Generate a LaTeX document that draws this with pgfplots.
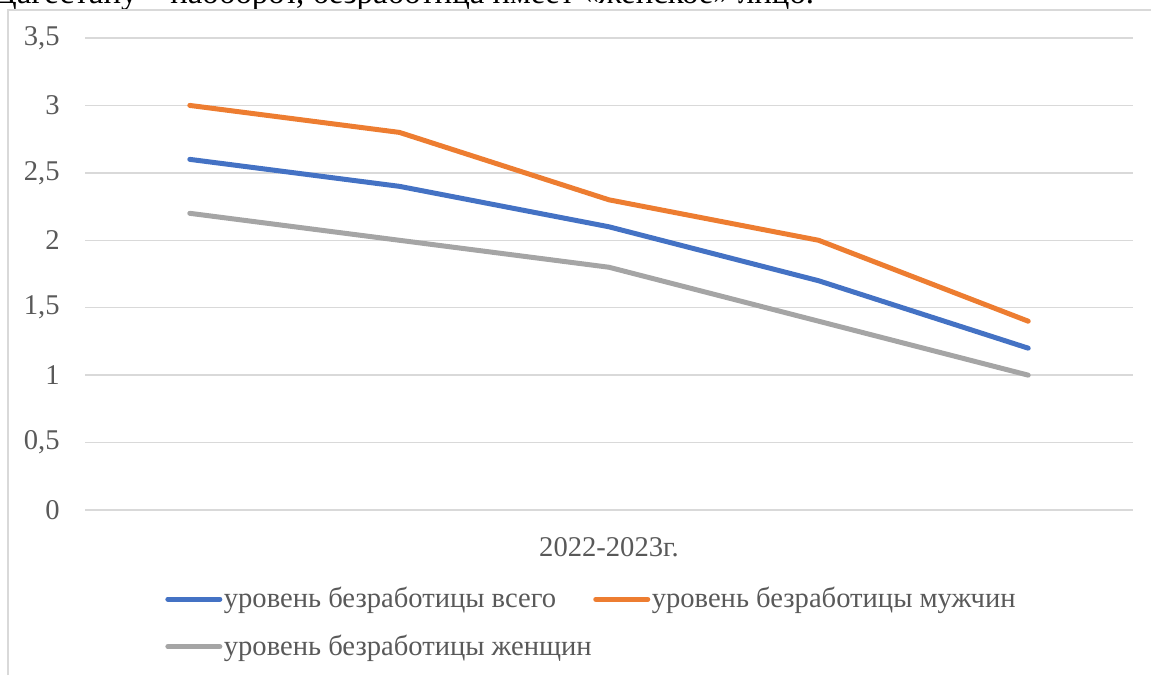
\documentclass[border=0pt]{standalone}
\usepackage{fontspec}
\setmainfont{Liberation Serif}
\usepackage{pgfplots}
\pgfplotsset{compat=1.18}
\definecolor{cblue}{HTML}{4472C4}
\definecolor{corange}{HTML}{ED7D31}
\definecolor{cgray}{HTML}{A5A5A5}
\definecolor{cgrid}{HTML}{D9D9D9}
\definecolor{ctext}{HTML}{595959}
\begin{document}
\begin{tikzpicture}
\useasboundingbox (0,0) rectangle (575.5pt,337.5pt);
\clip (0,0) rectangle (575.5pt,337.5pt);
\node[anchor=base west, inner sep=0pt, font=\fontsize{16.4}{18}\selectfont] at (-3pt,335.5pt) {Дагестану – наоборот, безработица имеет «женское» лицо.};
\draw[cgrid, line width=0.75pt] (4pt,0pt) -- (4pt,332.5pt) -- (580pt,332.5pt);
\begin{axis}[
  at={(42.5pt,82.5pt)}, anchor=south west,
  scale only axis, width=524pt, height=236pt,
  xmin=-0.5, xmax=4.5, ymin=0, ymax=3.5,
  ytick={0,0.5,...,3.5},
  xtick={2}, xticklabels={2022-2023г.},
  ymajorgrids, grid style={cgrid, line width=0.75pt},
  axis line style={draw=none},
  tick style={draw=none},
  major tick length=0pt,
  /pgf/number format/use comma,
  /pgf/number format/assume math mode=true,
  ticklabel style={font=\fontsize{14.3}{16}\selectfont, text=ctext, inner sep=0pt},
  yticklabel style={anchor=east, xshift=-12.5pt},
  xticklabel style={anchor=base, yshift=-23pt},
  legend columns=2,
  legend cell align=left,
  legend style={at={(axis description cs:0.0763,-0.16)}, anchor=north west,
    draw=none, fill=none, inner sep=0pt,
    font=\fontsize{14.3}{16}\selectfont, text=ctext,
    nodes={inner sep=0.75pt},
    /tikz/every even column/.append style={column sep=0pt},
    row sep=10.5pt},
  legend image code/.code={\draw[#1, line width=2.5pt, line cap=round] (0pt,0pt) -- (26pt,0pt);},
  every axis plot/.append style={line width=2.5pt, line join=round, line cap=round, mark=none},
]
\addplot[cblue] coordinates {(0,2.6) (1,2.4) (2,2.1) (3,1.7) (4,1.2)};
\addlegendentry{уровень безработицы всего}
\addplot[corange] coordinates {(0,3.0) (1,2.8) (2,2.3) (3,2.0) (4,1.4)};
\addlegendentry{уровень безработицы мужчин}
\addplot[cgray] coordinates {(0,2.2) (1,2.0) (2,1.8) (3,1.4) (4,1.0)};
\addlegendentry{уровень безработицы женщин}
\end{axis}
\end{tikzpicture}
\end{document}
